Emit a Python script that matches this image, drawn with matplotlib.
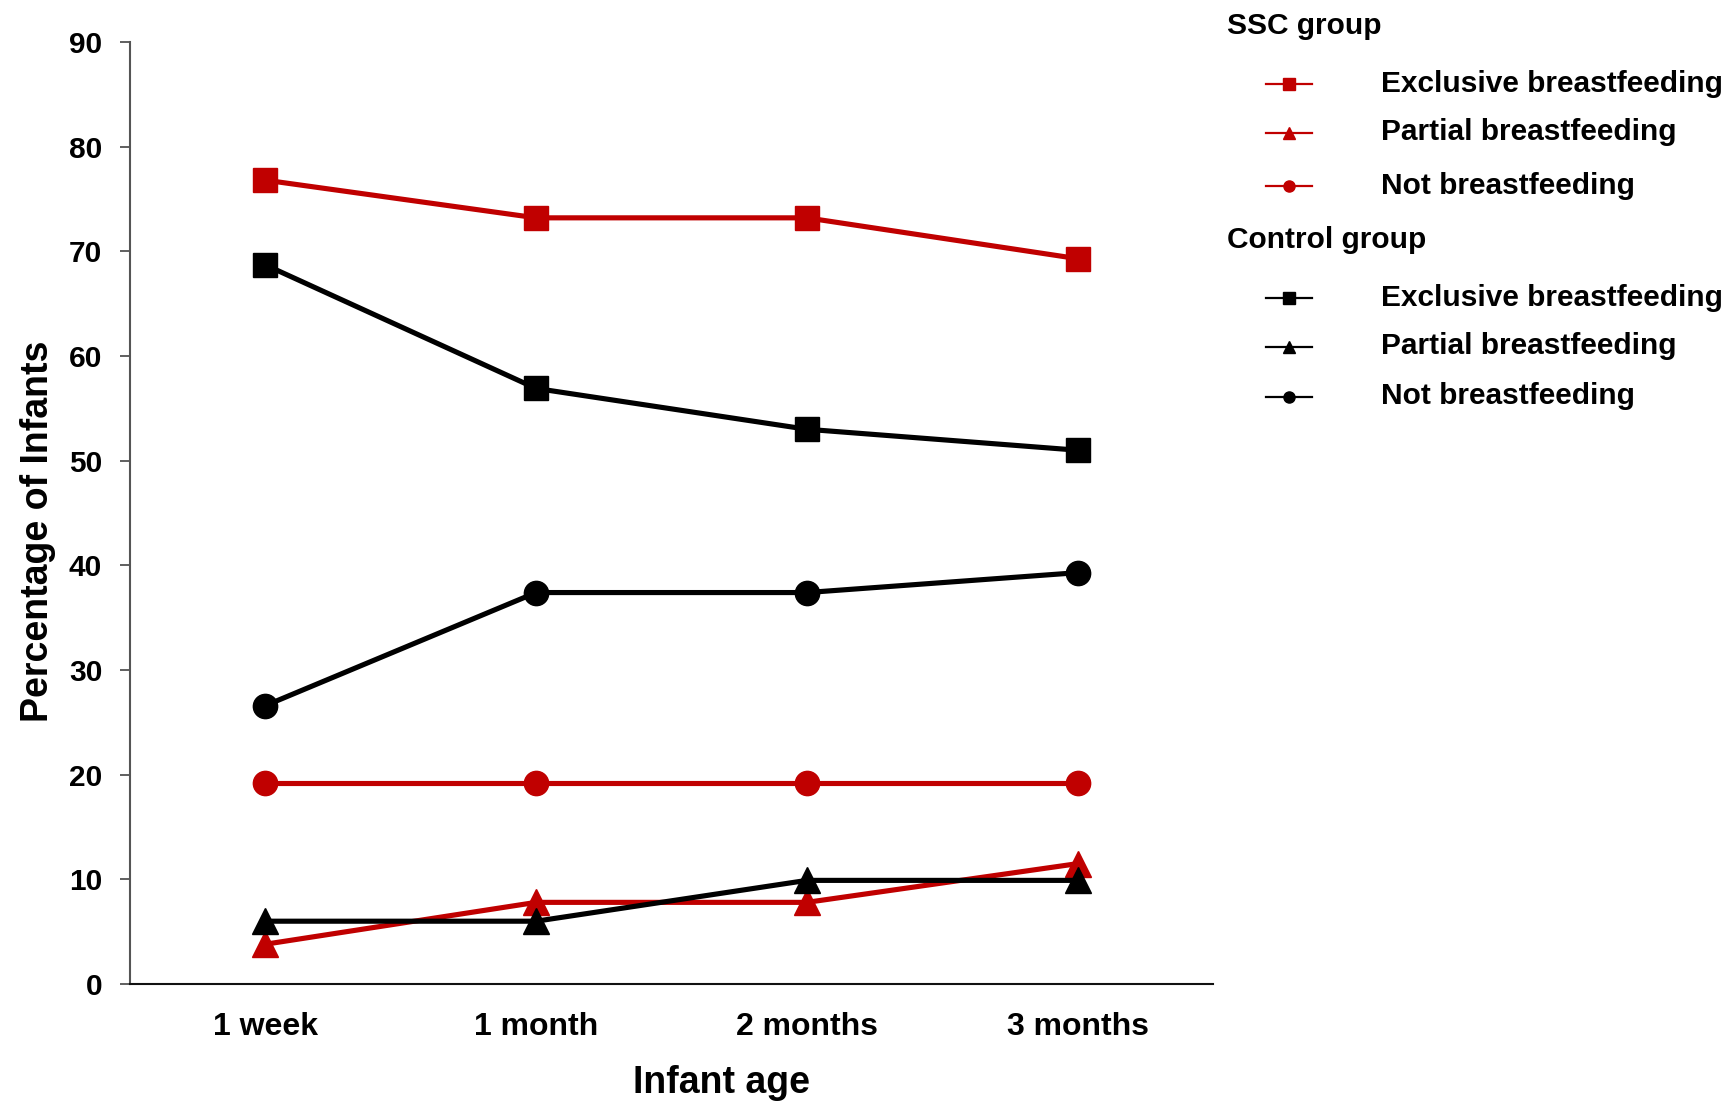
import matplotlib
matplotlib.use("Agg")
import matplotlib.pyplot as plt
from matplotlib.lines import Line2D

plt.rcParams['font.family'] = ['Liberation Sans', 'DejaVu Sans']
plt.rcParams['font.weight'] = 'bold'

categories = ["1 week", "1 month", "2 months", "3 months"]
ssc_exclusive = [76.8, 73.2, 73.2, 69.3]
ssc_partial = [3.8, 7.8, 7.8, 11.5]
ssc_not = [19.2, 19.2, 19.2, 19.2]
ctrl_exclusive = [68.7, 56.9, 53.0, 51.0]
ctrl_partial = [6.0, 6.0, 9.9, 9.9]
ctrl_not = [26.6, 37.4, 37.4, 39.3]
yticks = [0, 10, 20, 30, 40, 50, 60, 70, 80, 90]
series_labels = ["Exclusive breastfeeding", "Partial breastfeeding", "Not breastfeeding"]
group_labels = ["SSC group", "Control group"]

RED = "#C00000"
BLACK = "#000000"

W, H = 1732, 1106
fig = plt.figure(figsize=(W / 100, H / 100), dpi=100)
ax = fig.add_axes([130 / W, 1 - 984 / H, (1213 - 130) / W, (984 - 42) / H])

x = list(range(len(categories)))
lw = 3.7
ms_sq = 17.5
ms_tri = 18.5
ms_circ = 17.5

ax.plot(x, ssc_not, color=RED, lw=lw, marker='o', ms=ms_circ, zorder=3)
ax.plot(x, ctrl_not, color=BLACK, lw=lw, marker='o', ms=ms_circ, zorder=3)
ax.plot(x, ctrl_exclusive, color=BLACK, lw=lw, marker='s', ms=ms_sq, zorder=3)
ax.plot(x, ssc_exclusive, color=RED, lw=lw, marker='s', ms=ms_sq, zorder=3)
ax.plot(x, ssc_partial, color=RED, lw=lw, marker='^', ms=ms_tri, zorder=3)
ax.plot(x, ctrl_partial, color=BLACK, lw=lw, marker='^', ms=ms_tri, zorder=4)

ax.set_xlim(-0.5, len(categories) - 0.5)
ax.set_ylim(0, 90)
ax.set_yticks(yticks)
ax.set_xticks(x)
ax.set_xticklabels(categories)
ax.tick_params(axis='y', length=7, width=1.2, color='#444444', pad=13, labelsize=21.5)
ax.tick_params(axis='x', length=0, pad=20, labelsize=23)
for lab in ax.get_xticklabels() + ax.get_yticklabels():
    lab.set_fontweight('bold')

for s in ['top', 'right']:
    ax.spines[s].set_visible(False)
ax.spines['left'].set_color('#555555')
ax.spines['left'].set_linewidth(1.5)
ax.spines['bottom'].set_color('#111111')
ax.spines['bottom'].set_linewidth(1.5)

ax.set_xlabel("Infant age", fontsize=27, fontweight='bold')
ax.set_ylabel("Percentage of Infants", fontsize=27, fontweight='bold')
ax.xaxis.set_label_coords(0.546, -0.086)
ax.yaxis.set_label_coords(-0.068, 0.481)

# Legend (manual)
def fy(py):
    return 1 - py / H

def fx(px):
    return px / W

fs = 21.5
fig.text(fx(1227), fy(25.5), group_labels[0], fontsize=fs, fontweight='bold', va='center', ha='left')
fig.text(fx(1227), fy(239.5), group_labels[1], fontsize=fs, fontweight='bold', va='center', ha='left')
markers = ['s', '^', 'o']
msz = [9, 9, 8]
rows_ssc = [83.5, 132.5, 185.5]
rows_ctrl = [297.5, 346.5, 396.5]
for color, rows in [(RED, rows_ssc), (BLACK, rows_ctrl)]:
    for i, yy in enumerate(rows):
        ln = Line2D([fx(1266), fx(1312)], [fy(yy), fy(yy)], color=color, lw=1.6,
                    transform=fig.transFigure)
        fig.add_artist(ln)
        mk = Line2D([fx(1289)], [fy(yy)], color=color, marker=markers[i], ms=msz[i],
                    linestyle='none', transform=fig.transFigure)
        fig.add_artist(mk)
        fig.text(fx(1381), fy(yy), series_labels[i], fontsize=fs, fontweight='bold',
                 va='center', ha='left')

fig.savefig("out.png", dpi=100)
